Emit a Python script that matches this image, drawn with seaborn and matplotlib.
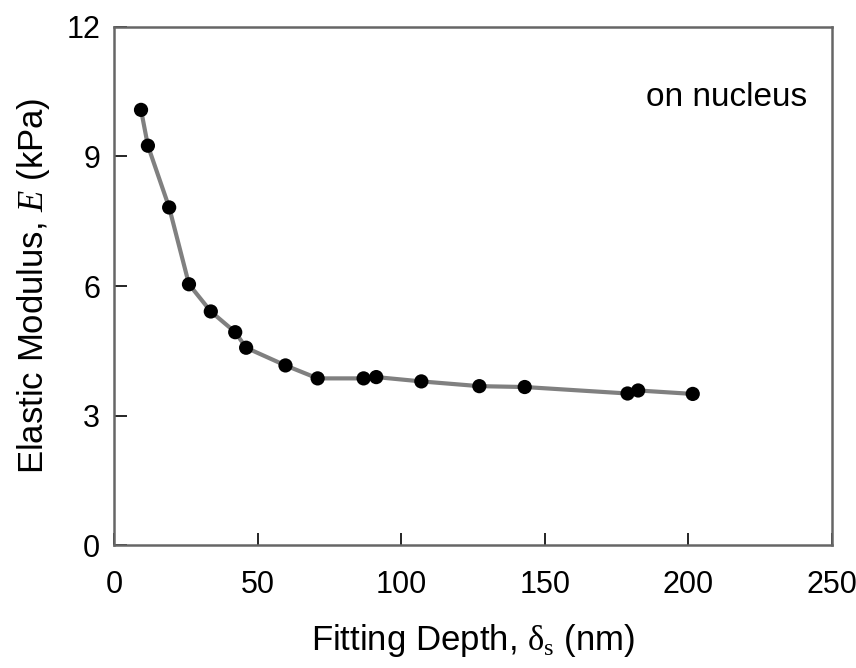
import matplotlib
matplotlib.use("Agg")
import pandas as pd
import seaborn as sns
import matplotlib.pyplot as plt

# === Data ===
depth_nm = [9.4, 11.8, 19.2, 26.1, 33.7, 42.2, 46.0, 59.7, 70.9, 86.9,
            91.3, 107.0, 127.2, 143.0, 178.8, 182.5, 201.5]
modulus_kPa = [10.08, 9.25, 7.82, 6.04, 5.41, 4.93, 4.57, 4.16, 3.86, 3.86,
               3.89, 3.79, 3.68, 3.66, 3.51, 3.58, 3.50]
x_ticks = [0, 50, 100, 150, 200, 250]
y_ticks = [0, 3, 6, 9, 12]

df = pd.DataFrame({"depth": depth_nm, "E": modulus_kPa})

sns.set_style("white")
plt.rcParams["font.family"] = ["Liberation Sans", "DejaVu Sans"]
plt.rcParams["mathtext.fontset"] = "custom"
plt.rcParams["mathtext.rm"] = "Liberation Serif"
plt.rcParams["mathtext.it"] = "Liberation Serif:italic"
plt.rcParams["text.color"] = "black"
plt.rcParams["axes.labelcolor"] = "black"

fig = plt.figure(figsize=(8.56, 6.68), dpi=100)
ax = fig.add_axes([0.1332, 0.1841, 0.8388, 0.7755])

sns.lineplot(data=df, x="depth", y="E", ax=ax, color="#808080",
             linewidth=3, zorder=2)
sns.scatterplot(data=df, x="depth", y="E", ax=ax, color="black", s=105,
                edgecolor="none", zorder=3)

ax.set_xlim(0, 250)
ax.set_ylim(0, 12)
ax.set_xticks(x_ticks)
ax.set_yticks(y_ticks)
ax.tick_params(direction="in", length=9, width=1.2, color="black",
               labelcolor="black", labelsize=22, pad=18,
               bottom=True, left=True, top=False, right=False)
ax.tick_params(axis="y", pad=10)

for sp in ax.spines.values():
    sp.set_color("#666666")
    sp.set_linewidth(1.8)

ax.set_xlabel(r"Fitting Depth, $\mathrm{\delta}_\mathrm{s}$ (nm)", fontsize=25, labelpad=16)
ax.set_ylabel(r"Elastic Modulus, $\mathit{E}$ (kPa)", fontsize=25, labelpad=10)
ax.text(0.966, 0.863, "on nucleus", transform=ax.transAxes, ha="right",
        va="center", fontsize=24)

fig.savefig("out.png", dpi=100)
